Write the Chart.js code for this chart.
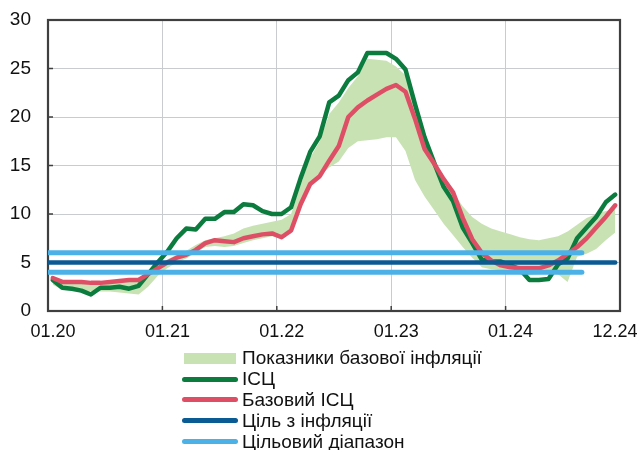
<!DOCTYPE html>
<html lang="uk">
<head>
<meta charset="utf-8">
<title>Інфляція</title>
<script src="https://cdn.jsdelivr.net/npm/chart.js@4.4.1/dist/chart.umd.min.js"></script>
<style>
  html, body { margin: 0; padding: 0; background: #fff; }
  #wrap { position: relative; width: 639px; height: 450px; overflow: hidden; }
  #legend {
    position: absolute; left: 182px; top: 348px;
    font: 19px "Liberation Sans", Arial, sans-serif; color: #111;
  }
  .li { display: flex; align-items: center; height: 20.8px; white-space: nowrap; }
  .sw { width: 56px; margin-right: 4px; display: flex; align-items: center; justify-content: center; }
  .sw .ln { width: 56px; height: 5px; border-radius: 3px; }
  .sw .bx { width: 52px; height: 11px; }
</style>
</head>
<body>
<div id="wrap">
  <canvas id="chart" width="639" height="450"></canvas>
  <div id="legend"></div>
</div>
<script>
// ── Data ─────────────────────────────────────────────
// monthly values, 01.20 … 12.24 (60 months), % y/y
const xTickLabels = ['01.20', '01.21', '01.22', '01.23', '01.24', '12.24'];

const cpi = [
  3.2, 2.4, 2.3, 2.1, 1.7, 2.4, 2.4, 2.5, 2.3, 2.6, 3.8, 5.0,
  6.1, 7.5, 8.5, 8.4, 9.5, 9.5, 10.2, 10.2, 11.0, 10.9, 10.3, 10.0,
  10.0, 10.7, 13.7, 16.4, 18.0, 21.5, 22.2, 23.8, 24.6, 26.6, 26.6, 26.6,
  26.0, 24.9, 21.3, 17.9, 15.3, 12.8, 11.3, 8.6, 7.0, 5.3, 5.1, 5.1,
  4.7, 4.3, 3.2, 3.2, 3.3, 4.8, 5.4, 7.5, 8.6, 9.7, 11.2, 12.0
];

const coreCpi = [
  3.4, 3.0, 3.0, 3.0, 2.9, 2.9, 3.0, 3.1, 3.2, 3.2, 3.8, 4.4,
  5.0, 5.5, 5.8, 6.3, 7.0, 7.3, 7.2, 7.1, 7.5, 7.7, 7.9, 8.0,
  7.6, 8.3, 11.0, 13.1, 13.9, 15.5, 17.0, 20.0, 21.0, 21.7, 22.3, 22.9,
  23.3, 22.6, 19.8, 16.7, 15.2, 13.6, 12.2, 9.6, 7.4, 6.0, 5.2, 4.7,
  4.5, 4.4, 4.4, 4.4, 4.7, 5.2, 5.9, 6.6, 7.5, 8.6, 9.7, 10.9
];

// range of core inflation indicators (min / max)
const coreLow = [
  2.7, 2.2, 2.1, 2.1, 2.0, 2.0, 2.0, 1.9, 1.8, 1.7, 2.5, 3.6,
  4.4, 5.0, 5.4, 6.0, 6.6, 6.7, 6.6, 6.7, 7.0, 7.3, 7.5, 7.7,
  7.6, 8.0, 10.5, 13.0, 14.0, 14.8, 15.4, 16.8, 17.5, 17.6, 17.7, 17.9,
  17.9, 16.5, 13.5, 11.8, 10.4, 9.0, 7.8, 6.6, 5.5, 4.5, 4.3, 4.2,
  4.0, 3.8, 3.7, 3.8, 3.9, 3.8, 3.0, 5.6, 5.9, 6.4, 7.3, 8.1
];
const coreHigh = [
  3.5, 3.2, 3.2, 3.1, 3.0, 3.0, 3.1, 3.2, 3.3, 3.3, 3.9, 4.6,
  5.3, 5.8, 6.2, 6.8, 7.3, 7.5, 7.7, 8.0, 8.5, 8.8, 9.0, 9.2,
  9.4, 10.0, 13.0, 15.8, 17.5, 20.3, 21.5, 23.0, 24.2, 26.0, 25.9, 25.8,
  25.2, 24.3, 21.0, 17.6, 15.6, 13.6, 12.2, 10.8, 9.7, 9.0, 8.5, 8.2,
  7.9, 7.6, 7.4, 7.3, 7.5, 7.7, 8.2, 8.9, 9.6, 10.0, 10.3, 10.5
];

const target    = 5;
const rangeLow  = 4;
const rangeHigh = 6;
const targetSpan = [0, 59.5];   // in months from 01.20
const rangeSpan  = [0, 56];

const names = ['Показники базової інфляції', 'ІСЦ', 'Базовий ІСЦ', 'Ціль з інфляції', 'Цільовий діапазон'];

// ── Styles ───────────────────────────────────────────
const C_BAND  = '#c8e2b4';
const C_CPI   = '#0b7b3e';
const C_CORE  = '#de4f66';
const C_TGT   = '#0a5a93';
const C_RANGE = '#4cb1e6';
const C_AXIS  = '#3f3f3f';
const C_GRID  = '#c9cccf';

const monthly = arr => arr.map((v, i) => ({ x: i + 0.5, y: v }));
const flat    = (span, v) => span.map(x => ({ x, y: v }));

const lineDs = (label, data, color, width) => ({
  label, data,
  borderColor: color, backgroundColor: color,
  borderWidth: width, pointRadius: 0, tension: 0,
  borderJoinStyle: 'round', borderCapStyle: 'round', fill: false
});

// first dataset is drawn on top
const datasets = [
  lineDs(names[4], flat(rangeSpan, rangeHigh), C_RANGE, 5),
  lineDs(names[4], flat(rangeSpan, rangeLow),  C_RANGE, 5),
  lineDs(names[3], flat(targetSpan, target),   C_TGT, 4.5),
  lineDs(names[2], monthly(coreCpi), C_CORE, 4.5),
  lineDs(names[1], monthly(cpi),     C_CPI, 4.5),
  { label: names[0], data: monthly(coreHigh), borderWidth: 0, pointRadius: 0,
    backgroundColor: C_BAND, fill: '+1', tension: 0 },
  { label: 'low', data: monthly(coreLow), borderWidth: 0, pointRadius: 0,
    backgroundColor: C_BAND, fill: false, tension: 0 }
];

// ── Frame + inward tick marks ─────────────────────────
const framePlugin = {
  id: 'frame',
  beforeDatasetsDraw(chart) {
    const { ctx, chartArea: a, scales: { x, y } } = chart;
    ctx.save();
    ctx.strokeStyle = C_AXIS;
    ctx.lineWidth = 1.5;
    ctx.beginPath();
    x.ticks.forEach(t => {
      const px = x.getPixelForValue(t.value);
      ctx.moveTo(px, a.bottom); ctx.lineTo(px, a.bottom - 5);
    });
    y.ticks.forEach(t => {
      const py = y.getPixelForValue(t.value);
      ctx.moveTo(a.left, py); ctx.lineTo(a.left + 5, py);
    });
    ctx.stroke();
    ctx.lineWidth = 2.2;
    ctx.strokeRect(a.left, a.top, a.right - a.left, a.bottom - a.top);
    ctx.restore();
  }
};

Chart.defaults.font.family = '"Liberation Sans", Arial, sans-serif';
Chart.defaults.font.size = 19;
Chart.defaults.color = '#111';

const chart = new Chart(document.getElementById('chart'), {
  type: 'line',
  data: { datasets },
  plugins: [framePlugin],
  options: {
    responsive: false, animation: false, events: [],
    layout: { padding: { top: 20, right: 19, left: 0, bottom: 0 } },
    plugins: { legend: { display: false }, tooltip: { enabled: false } },
    scales: {
      x: {
        type: 'linear', min: 0, max: 60,
        ticks: {
          stepSize: 12, autoSkip: false, maxRotation: 0, padding: 10,
          labelOffset: 5, font: { size: 18 },
          // last label sits inside the frame, like the original
          callback: (v, i, all) => i === all.length - 1 ? xTickLabels[i] + '    ' : xTickLabels[i]
        },
        grid: { color: C_GRID, lineWidth: 1, drawTicks: false },
        border: { display: false },
        afterFit: s => { s.height = 139; s.paddingLeft = 0; s.paddingRight = 0; }
      },
      y: {
        min: 0, max: 30,
        ticks: { stepSize: 5, padding: 17 },
        grid: { color: C_GRID, lineWidth: 1, drawTicks: false },
        border: { display: false },
        afterFit: s => { s.width = 48; s.paddingTop = 0; s.paddingBottom = 0; }
      }
    }
  }
});

// ── Legend (vertical list under the plot) ─────────────
const legendItems = [
  { name: names[0], color: C_BAND,  box: true },
  { name: names[1], color: C_CPI },
  { name: names[2], color: C_CORE },
  { name: names[3], color: C_TGT },
  { name: names[4], color: C_RANGE }
];
const legendEl = document.getElementById('legend');
legendItems.forEach(it => {
  const row = document.createElement('div');
  row.className = 'li';
  row.innerHTML = `<span class="sw"><span class="${it.box ? 'bx' : 'ln'}" style="background:${it.color}"></span></span><span>${it.name}</span>`;
  legendEl.appendChild(row);
});
</script>
</body>
</html>
